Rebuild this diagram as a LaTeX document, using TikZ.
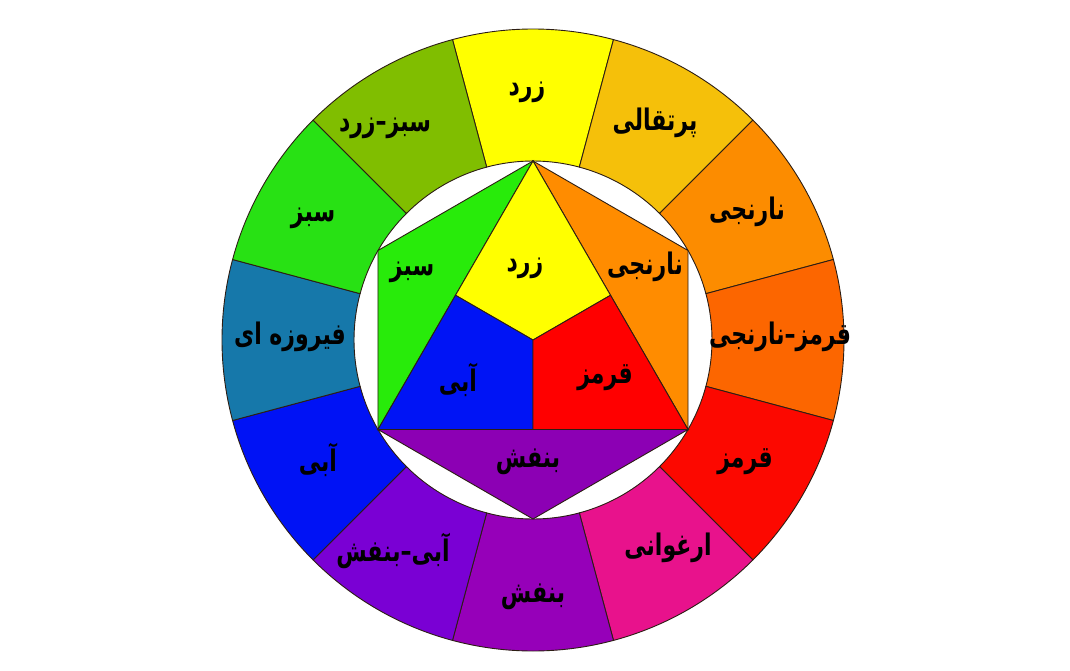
\documentclass[tikz,border=0pt]{standalone}
\usepackage{fontspec}
\usetikzlibrary{calc}
\newfontfamily\persianfont[Script=Arabic]{DejaVu Sans}
\TeXXeTstate=1
\newcommand\farsi[1]{\scalebox{1}[1.35]{\beginR #1\endR}}
\definecolor{edgecol}{RGB}{45,30,20}
\definecolor{ringyellow}{RGB}{255,255,0}
\definecolor{ringamber}{RGB}{245,192,10}
\definecolor{ringorange}{RGB}{252,140,0}
\definecolor{ringredorange}{RGB}{252,102,0}
\definecolor{ringred}{RGB}{252,8,0}
\definecolor{ringmagenta}{RGB}{232,18,140}
\definecolor{ringviolet}{RGB}{150,0,185}
\definecolor{ringblueviolet}{RGB}{122,0,212}
\definecolor{ringblue}{RGB}{0,18,245}
\definecolor{ringteal}{RGB}{22,120,170}
\definecolor{ringgreen}{RGB}{40,225,20}
\definecolor{ringyellowgreen}{RGB}{128,190,0}
\definecolor{coreyellow}{RGB}{255,255,0}
\definecolor{coreorange}{RGB}{255,140,0}
\definecolor{corered}{RGB}{255,0,0}
\definecolor{coreblue}{RGB}{0,20,245}
\definecolor{coregreen}{RGB}{40,235,10}
\definecolor{corepurple}{RGB}{140,0,180}

\begin{document}
\begin{tikzpicture}[x=1pt,y=1pt,
  seg/.style={draw=edgecol,line width=0.9},
  lbl/.style={font={\persianfont\bfseries\fontsize{22}{26}\selectfont},inner sep=0}]
\useasboundingbox[fill=white] (-533,-330) rectangle (537,340);
\filldraw[seg,fill=ringyellow] (75:179) arc[start angle=75,end angle=105,radius=179] -- (105:311) arc[start angle=105,end angle=75,radius=311] -- cycle;
\filldraw[seg,fill=ringamber] (45:179) arc[start angle=45,end angle=75,radius=179] -- (75:311) arc[start angle=75,end angle=45,radius=311] -- cycle;
\filldraw[seg,fill=ringorange] (15:179) arc[start angle=15,end angle=45,radius=179] -- (45:311) arc[start angle=45,end angle=15,radius=311] -- cycle;
\filldraw[seg,fill=ringredorange] (-15:179) arc[start angle=-15,end angle=15,radius=179] -- (15:311) arc[start angle=15,end angle=-15,radius=311] -- cycle;
\filldraw[seg,fill=ringred] (-45:179) arc[start angle=-45,end angle=-15,radius=179] -- (-15:311) arc[start angle=-15,end angle=-45,radius=311] -- cycle;
\filldraw[seg,fill=ringmagenta] (-75:179) arc[start angle=-75,end angle=-45,radius=179] -- (-45:311) arc[start angle=-45,end angle=-75,radius=311] -- cycle;
\filldraw[seg,fill=ringviolet] (-105:179) arc[start angle=-105,end angle=-75,radius=179] -- (-75:311) arc[start angle=-75,end angle=-105,radius=311] -- cycle;
\filldraw[seg,fill=ringblueviolet] (-135:179) arc[start angle=-135,end angle=-105,radius=179] -- (-105:311) arc[start angle=-105,end angle=-135,radius=311] -- cycle;
\filldraw[seg,fill=ringblue] (-165:179) arc[start angle=-165,end angle=-135,radius=179] -- (-135:311) arc[start angle=-135,end angle=-165,radius=311] -- cycle;
\filldraw[seg,fill=ringteal] (165:179) arc[start angle=165,end angle=195,radius=179] -- (195:311) arc[start angle=195,end angle=165,radius=311] -- cycle;
\filldraw[seg,fill=ringgreen] (135:179) arc[start angle=135,end angle=165,radius=179] -- (165:311) arc[start angle=165,end angle=135,radius=311] -- cycle;
\filldraw[seg,fill=ringyellowgreen] (105:179) arc[start angle=105,end angle=135,radius=179] -- (135:311) arc[start angle=135,end angle=105,radius=311] -- cycle;
\coordinate (apex) at (90:179);
\coordinate (hexul) at (150:179);
\coordinate (hexll) at (210:179);
\coordinate (hexbot) at (270:179);
\coordinate (hexlr) at (330:179);
\coordinate (hexur) at (30:179);
\coordinate (hub) at (0,0);
\coordinate (midl) at ($(apex)!0.5!(hexll)$);
\coordinate (midr) at ($(apex)!0.5!(hexlr)$);
\coordinate (midb) at ($(hexll)!0.5!(hexlr)$);
\filldraw[seg,fill=coregreen] (apex) -- (hexul) -- (hexll) -- cycle;
\filldraw[seg,fill=coreorange] (apex) -- (hexur) -- (hexlr) -- cycle;
\filldraw[seg,fill=corepurple] (hexll) -- (hexbot) -- (hexlr) -- cycle;
\filldraw[seg,fill=coreyellow] (apex) -- (midl) -- (hub) -- (midr) -- cycle;
\filldraw[seg,fill=coreblue] (hexll) -- (midb) -- (hub) -- (midl) -- cycle;
\filldraw[seg,fill=corered] (hexlr) -- (midr) -- (hub) -- (midb) -- cycle;
\node[lbl] (zardout) at (-6,248) {\farsi{زرد}};
\node[lbl] (porteghali) at (122,217) {\farsi{پرتقالی}};
\node[lbl] (narenjiout) at (214,128) {\farsi{نارنجی}};
\node[lbl] (ghermeznarenji) at (247,3) {\farsi{قرمز–نارنجی}};
\node[lbl] (ghermezout) at (212,-122) {\farsi{قرمز}};
\node[lbl] (arghavani) at (135,-208) {\farsi{ارغوانی}};
\node[lbl] (banafshout) at (0,-257) {\farsi{بنفش}};
\node[lbl] (abibanafsh) at (-140,-211) {\farsi{آبی–بنفش}};
\node[lbl] (abiout) at (-215,-120) {\farsi{آبی}};
\node[lbl] (firouzeh) at (-243,3) {\farsi{فیروزه ای}};
\node[lbl] (sabzout) at (-220,122) {\farsi{سبز}};
\node[lbl] (sabzzard) at (-148,212) {\farsi{سبز–زرد}};
\node[lbl] (zardin) at (-8,72) {\farsi{زرد}};
\node[lbl] (sabzin) at (-121,68) {\farsi{سبز}};
\node[lbl] (narenjiin) at (112,73) {\farsi{نارنجی}};
\node[lbl] (abiin) at (-75,-40) {\farsi{آبی}};
\node[lbl] (ghermezin) at (72,-38) {\farsi{قرمز}};
\node[lbl] (banafshin) at (-5,-122) {\farsi{بنفش}};
\end{tikzpicture}
\end{document}
